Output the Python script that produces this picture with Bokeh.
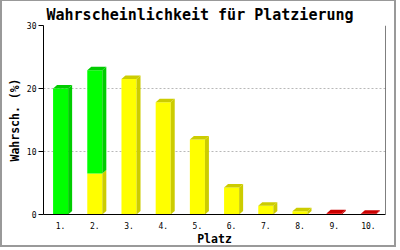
from bokeh.plotting import figure
from bokeh.models import Range1d, FixedTicker, Span
from bokeh.embed import file_html
from bokeh.resources import INLINE

places = ["1.", "2.", "3.", "4.", "5.", "6.", "7.", "8.", "9.", "10."]
red = [0, 0, 0, 0, 0, 0, 0, 0, 0.2, 0.1]
yellow = [0, 6.5, 21.5, 17.8, 11.9, 4.3, 1.4, 0.5, 0, 0]
green = [20.0, 16.4, 0, 0, 0, 0, 0, 0, 0, 0]
y_ticks = [0, 10, 20, 30]

series = [
    (red, "#ff0000", "#cc0000"),
    (yellow, "#ffff00", "#cccc00"),
    (green, "#00ff00", "#00cc00"),
]

BAR_W = 0.44
DX = 0.117   # depth offset (x units)
DY = 0.56    # depth offset (y units)

p = figure(width=396, height=247, x_range=Range1d(0, 10), y_range=Range1d(0, 30),
           output_backend="svg", toolbar_location=None,
           min_border_left=41, min_border_right=13, min_border_top=24, min_border_bottom=34)
p.styles = {"border-style": "solid", "border-color": "#999999", "border-width": "1px 2px 2px 2px"}
p.background_fill_color = "white"
p.border_fill_color = "white"
p.outline_line_color = None

q_l, q_r, q_b, q_t, q_c = [], [], [], [], []
sx, sy, sc = [], [], []
for i in range(len(places)):
    xc = i + 0.5
    xl, xr = xc - BAR_W / 2, xc + BAR_W / 2
    base = 0.0
    top_dark = None
    for vals, front, dark in series:
        v = vals[i]
        if v <= 0:
            continue
        q_l.append(xl); q_r.append(xr); q_b.append(base); q_t.append(base + v); q_c.append(front)
        sx.append([xr, xr + DX, xr + DX, xr])
        sy.append([base, base + DY, base + v + DY, base + v])
        sc.append(dark)
        base += v
        top_dark = dark
    if top_dark is not None:
        sx.append([xl, xl + DX, xr + DX, xr])
        sy.append([base, base + DY, base + DY, base])
        sc.append(top_dark)

p.quad(left=q_l, right=q_r, bottom=q_b, top=q_t, fill_color=q_c, line_color=None)
p.patches(xs=sx, ys=sy, fill_color=sc, line_color=None)

p.add_layout(Span(location=10, dimension="height", line_color="black", line_width=1))

p.title.text = "Wahrscheinlichkeit für Platzierung"
p.title.text_font = "DejaVu Sans Mono"
p.title.text_font_size = "15px"
p.title.text_font_style = "bold"
p.title.text_color = "black"
p.title.align = "left"
p.title.offset = 3
p.title.standoff = 4

p.xgrid.visible = False
p.ygrid.ticker = FixedTicker(ticks=y_ticks)
p.ygrid.grid_line_color = "#b8b8b8"
p.ygrid.grid_line_dash = "2 2"

xa = p.xaxis[0]
xa.ticker = FixedTicker(ticks=[i + 0.5 for i in range(len(places))])
xa.major_label_overrides = {i + 0.5: lab for i, lab in enumerate(places)}
xa.major_tick_line_color = None
xa.minor_tick_line_color = None
xa.axis_line_color = "black"
xa.major_label_text_font = "DejaVu Sans Mono"
xa.major_label_text_font_size = "8px"
xa.major_label_text_color = "black"
xa.major_label_standoff = 1
xa.axis_label = "Platz"
xa.axis_label_text_font = "DejaVu Sans Mono"
xa.axis_label_text_font_size = "11.5px"
xa.axis_label_text_font_style = "bold"
xa.axis_label_text_color = "black"
xa.axis_label_standoff = 0

ya = p.yaxis[0]
ya.ticker = FixedTicker(ticks=y_ticks)
ya.minor_tick_line_color = None
ya.major_tick_out = 5
ya.major_tick_in = 0
ya.axis_line_color = "black"
ya.major_label_text_font = "DejaVu Sans Mono"
ya.major_label_text_font_size = "8px"
ya.major_label_text_color = "black"
ya.major_label_standoff = 2
ya.axis_label = "Wahrsch. (%)"
ya.axis_label_text_font = "DejaVu Sans Mono"
ya.axis_label_text_font_size = "11.5px"
ya.axis_label_text_font_style = "bold"
ya.axis_label_text_color = "black"
ya.axis_label_standoff = 2

open("out.html", "w").write(file_html(p, INLINE))
